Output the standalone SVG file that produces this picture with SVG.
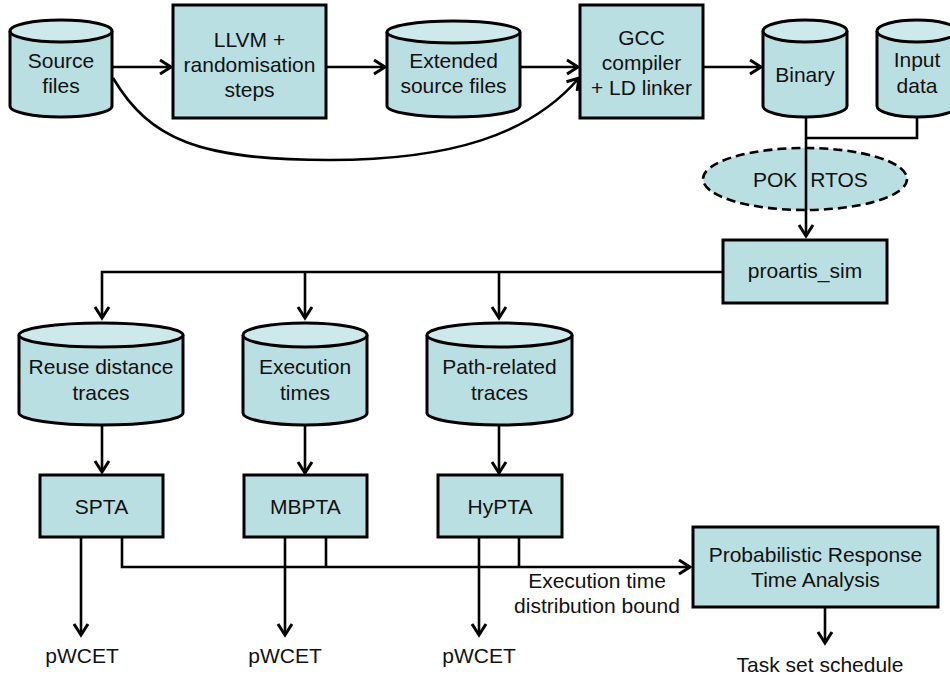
<svg xmlns="http://www.w3.org/2000/svg" width="950" height="677" viewBox="0 0 950 677">
<style>
.box{fill:#badfe3;stroke:#000;stroke-width:3}
.top{fill:#cde9ec;stroke:#000;stroke-width:3}
.t{font-family:"Liberation Sans",Arial,sans-serif;font-size:21px;fill:#111;text-anchor:middle}
.c{fill:none;stroke:#000;stroke-width:2.6}
</style>
<defs>
<marker id="ah" markerUnits="userSpaceOnUse" markerWidth="16" markerHeight="18" refX="12" refY="8" orient="auto" overflow="visible">
<path d="M1,1 L12,8 L1,15" fill="none" stroke="#000" stroke-width="3"/>
</marker>
</defs>
<g id="connectors">
<path class="c" d="M112,67 H171" marker-end="url(#ah)"/>
<path class="c" d="M326,67 H385" marker-end="url(#ah)"/>
<path class="c" d="M520,67 H578" marker-end="url(#ah)"/>
<path class="c" d="M703,67 H761" marker-end="url(#ah)"/>
<path class="c" d="M113,78 C150,140 200,160 330,160 C450,160 530,135 579,78" marker-end="url(#ah)"/>
<path class="c" d="M917,117 V138 H806"/>
<path class="c" d="M723,272 H102 V318" marker-end="url(#ah)"/>
<path class="c" d="M305,272 V318" marker-end="url(#ah)"/>
<path class="c" d="M499,272 V318" marker-end="url(#ah)"/>
<path class="c" d="M102,425 V472" marker-end="url(#ah)"/>
<path class="c" d="M305,425 V473" marker-end="url(#ah)"/>
<path class="c" d="M499,425 V473" marker-end="url(#ah)"/>
<path class="c" d="M81,537 V635" marker-end="url(#ah)"/>
<path class="c" d="M285,537 V635" marker-end="url(#ah)"/>
<path class="c" d="M479,537 V635" marker-end="url(#ah)"/>
<path class="c" d="M122,537 V567 H690" marker-end="url(#ah)"/>
<path class="c" d="M326,537 V567"/>
<path class="c" d="M519,537 V567"/>
<path class="c" d="M825,607 V643" marker-end="url(#ah)"/>
</g>
<g id="source">
<path class="box" d="M10,31 V106 A51,11 0 0 0 112,106 V31"/>
<ellipse class="top" cx="61" cy="31" rx="51" ry="11"/>
<text class="t" x="61" y="68">Source</text><text class="t" x="61" y="93">files</text>
</g>
<g id="llvm">
<rect class="box" x="173" y="5" width="153" height="113"/>
<text class="t" x="249.5" y="47">LLVM +</text><text class="t" x="249.5" y="72">randomisation</text><text class="t" x="249.5" y="97">steps</text>
</g>
<g id="extended">
<path class="box" d="M387,32 V106 A66.5,11 0 0 0 520,106 V32"/>
<ellipse class="top" cx="453.5" cy="32" rx="66.5" ry="11"/>
<text class="t" x="453.5" y="68">Extended</text><text class="t" x="453.5" y="93">source files</text>
</g>
<g id="gcc">
<rect class="box" x="580" y="5" width="123" height="113"/>
<text class="t" x="641.5" y="45">GCC</text><text class="t" x="641.5" y="70">compiler</text><text class="t" x="641.5" y="95">+ LD linker</text>
</g>
<g id="binary">
<path class="box" d="M763,31 V106 A42,11 0 0 0 847,106 V31"/>
<ellipse class="top" cx="805" cy="31" rx="42" ry="11"/>
<text class="t" x="805" y="82">Binary</text>
</g>
<g id="input">
<path class="box" d="M877,31 V106 A40,11 0 0 0 957,106 V31"/>
<ellipse class="top" cx="917" cy="31" rx="40" ry="11"/>
<text class="t" x="917" y="67">Input</text><text class="t" x="917" y="93">data</text>
</g>
<g id="pok">
<ellipse cx="805" cy="179" rx="102" ry="31" fill="#badfe3" stroke="#000" stroke-width="2.6" stroke-dasharray="9,5"/>
<text class="t" x="753" y="187" style="text-anchor:start" word-spacing="7">POK RTOS</text>
</g>
<path class="c" d="M806,117 V236" marker-end="url(#ah)"/>
<g id="proartis">
<rect class="box" x="723" y="240" width="164" height="63"/>
<text class="t" x="805" y="278">proartis_sim</text>
</g>
<g id="reuse">
<path class="box" d="M19,335 V413 A82,12 0 0 0 183,413 V335"/>
<ellipse class="top" cx="101" cy="335" rx="82" ry="12"/>
<text class="t" x="101" y="374">Reuse distance</text><text class="t" x="101" y="400">traces</text>
</g>
<g id="exec">
<path class="box" d="M243,335 V413 A62,12 0 0 0 367,413 V335"/>
<ellipse class="top" cx="305" cy="335" rx="62" ry="12"/>
<text class="t" x="305" y="374">Execution</text><text class="t" x="305" y="400">times</text>
</g>
<g id="path">
<path class="box" d="M427,335 V413 A72.5,12 0 0 0 572,413 V335"/>
<ellipse class="top" cx="499.5" cy="335" rx="72.5" ry="12"/>
<text class="t" x="499.5" y="374">Path-related</text><text class="t" x="499.5" y="400">traces</text>
</g>
<g id="spta">
<rect class="box" x="40" y="475" width="123" height="62"/>
<text class="t" x="101.5" y="514">SPTA</text>
</g>
<g id="mbpta">
<rect class="box" x="244" y="475" width="123" height="62"/>
<text class="t" x="305.5" y="514">MBPTA</text>
</g>
<g id="hypta">
<rect class="box" x="438" y="475" width="124" height="62"/>
<text class="t" x="500" y="514">HyPTA</text>
</g>
<g id="prta">
<rect class="box" x="693" y="527" width="245" height="80"/>
<text class="t" x="815.5" y="562">Probabilistic Response</text><text class="t" x="815.5" y="587">Time Analysis</text>
</g>
<g id="labels">
<text class="t" x="597" y="588">Execution time</text><text class="t" x="597" y="613">distribution bound</text>
<text class="t" x="82" y="663">pWCET</text>
<text class="t" x="285" y="663">pWCET</text>
<text class="t" x="479" y="663">pWCET</text>
<text class="t" x="820" y="672">Task set schedule</text>
</g>
</svg>
